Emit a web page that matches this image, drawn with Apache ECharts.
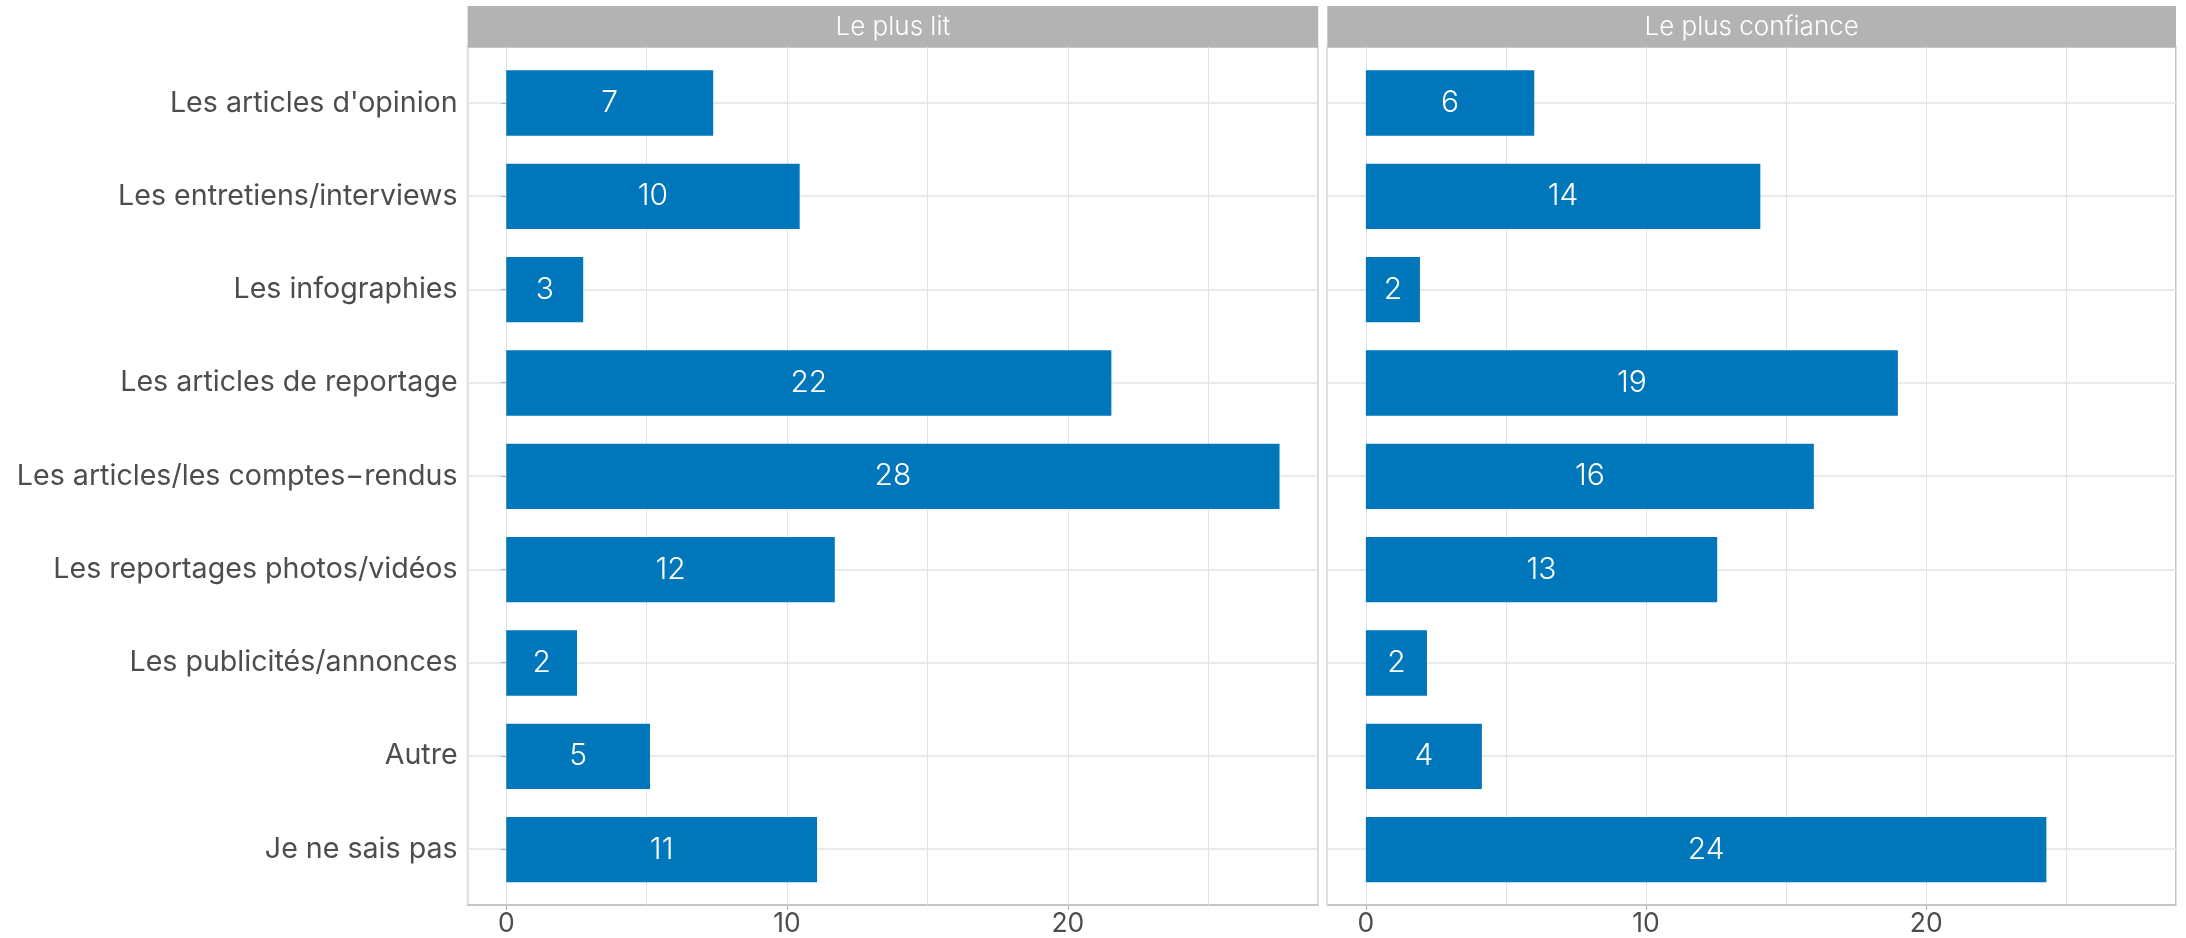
<!DOCTYPE html>
<html>
<head>
<meta charset="utf-8">
<script src="https://cdn.jsdelivr.net/npm/echarts@6/dist/echarts.min.js"></script>
<style>
  html, body { margin: 0; padding: 0; background: #ffffff; }
  #chart { width: 2186px; height: 938px; }
</style>
</head>
<body>
<div id="chart"></div>
<script>
// ---- data ----
const categories = [
  "Les articles d'opinion",
  "Les entretiens/interviews",
  "Les infographies",
  "Les articles de reportage",
  "Les articles/les comptes\u2212rendus",
  "Les reportages photos/vidéos",
  "Les publicités/annonces",
  "Autre",
  "Je ne sais pas"
];
const panelTitles = ["Le plus lit", "Le plus confiance"];
const valuesLit = [7.37, 10.45, 2.74, 21.55, 27.54, 11.70, 2.52, 5.12, 11.07];
const labelsLit = ["7", "10", "3", "22", "28", "12", "2", "5", "11"];
const valuesConf = [6.01, 14.08, 1.93, 18.99, 15.99, 12.54, 2.18, 4.14, 24.29];
const labelsConf = ["6", "14", "2", "19", "16", "13", "2", "4", "24"];
const xTickValues = [0, 10, 20];

// ---- layout ----
const W = 2186, H = 938;
const PANEL_TOP = 47, PANEL_BOTTOM = 905.7;
const STRIP_TOP = 6;
const panels = [
  { left: 467.6, right: 1318.2 },
  { left: 1327.3, right: 2176 }
];
const nCat = categories.length;
const unit = (PANEL_BOTTOM - PANEL_TOP) / (nCat + 0.2);
const allVals = valuesLit.concat(valuesConf);
const vmax = Math.max.apply(null, allVals);
const XMIN = -0.05 * vmax, XMAX = vmax * 1.05;

const FONT = "Inter, 'DejaVu Sans', sans-serif";
const TEXT_COLOR = '#4D4D4D';
const GRID_COLOR = '#E3E3E3';
const FRAME_COLOR = '#B3B3B3';
const BAR_COLOR = '#0077BB';

const grids = [];
const xAxes = [];
const yAxes = [];
const series = [];
const graphics = [];

const datasets = [
  { values: valuesLit, labels: labelsLit },
  { values: valuesConf, labels: labelsConf }
];

// frame grids (0,1)
panels.forEach((p, i) => {
  grids.push({
    left: p.left, width: p.right - p.left,
    top: PANEL_TOP, height: PANEL_BOTTOM - PANEL_TOP,
    show: true, borderColor: FRAME_COLOR, borderWidth: 1.5,
    backgroundColor: 'transparent', z: 0
  });
});
// inner grids for bars (2,3)
panels.forEach((p, i) => {
  grids.push({
    left: p.left, width: p.right - p.left,
    top: PANEL_TOP + 0.1 * unit, height: (PANEL_BOTTOM - PANEL_TOP) - 0.2 * unit,
    show: false
  });
});

// x axes
panels.forEach((p, i) => {
  // split lines axis
  xAxes.push({
    gridIndex: i, type: 'value', position: 'bottom', min: XMIN, max: XMAX, splitNumber: 6,
    axisLine: { show: false }, axisTick: { show: false }, axisLabel: { show: false },
    splitLine: { show: true, lineStyle: { color: GRID_COLOR, width: 1 } }
  });
  // ticks & labels axis
  xAxes.push({
    gridIndex: i, type: 'value', position: 'bottom', min: XMIN, max: XMAX,
    axisLine: { show: false },
    axisTick: { show: true, customValues: xTickValues, length: 5, lineStyle: { color: FRAME_COLOR, width: 1.2 } },
    axisLabel: { show: true, customValues: xTickValues, color: TEXT_COLOR, fontSize: 26.5, fontFamily: FONT, margin: 6 },
    splitLine: { show: false }
  });
});
panels.forEach((p, i) => {
  xAxes.push({ gridIndex: 2 + i, type: 'value', min: XMIN, max: XMAX, show: false });
});

// y axes
const yTickValues = categories.map((c, k) => k + 1);
panels.forEach((p, i) => {
  yAxes.push({
    gridIndex: i, type: 'value', min: 0.4, max: nCat + 0.6, splitNumber: nCat,
    axisLine: { show: false },
    axisTick: { show: i === 0, customValues: yTickValues, length: 5, lineStyle: { color: FRAME_COLOR, width: 1.2 } },
    axisLabel: {
      show: i === 0, customValues: yTickValues,
      formatter: v => categories[nCat - Math.round(v)],
      color: TEXT_COLOR, fontSize: 28.6, fontFamily: FONT, margin: 10
    },
    splitLine: { show: true, lineStyle: { color: GRID_COLOR, width: 1.5 } }
  });
});
panels.forEach((p, i) => {
  yAxes.push({ gridIndex: 2 + i, type: 'category', data: categories, inverse: true, show: false });
});

// series
datasets.forEach((d, i) => {
  series.push({
    type: 'bar', xAxisIndex: 4 + i, yAxisIndex: 2 + i,
    data: d.values, barWidth: '70%',
    itemStyle: { color: BAR_COLOR },
    label: {
      show: true, position: 'inside', color: '#ffffff', fontSize: 30, fontFamily: FONT, fontWeight: 300,
      formatter: prm => d.labels[prm.dataIndex]
    },
    z: 3, silent: true, animation: false
  });
});

// strips
panels.forEach((p, i) => {
  graphics.push({
    type: 'rect', shape: { x: p.left, y: STRIP_TOP, width: p.right - p.left, height: PANEL_TOP - STRIP_TOP },
    style: { fill: FRAME_COLOR }, z: 10
  });
  graphics.push({
    type: 'text', x: (p.left + p.right) / 2, y: (STRIP_TOP + PANEL_TOP) / 2 + 1,
    style: { text: panelTitles[i], fill: '#ffffff', fontSize: 26, fontFamily: FONT, fontWeight: 300,
             align: 'center', verticalAlign: 'middle' }, z: 11
  });
});

const chart = echarts.init(document.getElementById('chart'), null, { renderer: 'canvas', width: W, height: H });
chart.setOption({
  backgroundColor: '#ffffff',
  animation: false,
  grid: grids,
  xAxis: xAxes,
  yAxis: yAxes,
  series: series,
  graphic: graphics
});
</script>
</body>
</html>
